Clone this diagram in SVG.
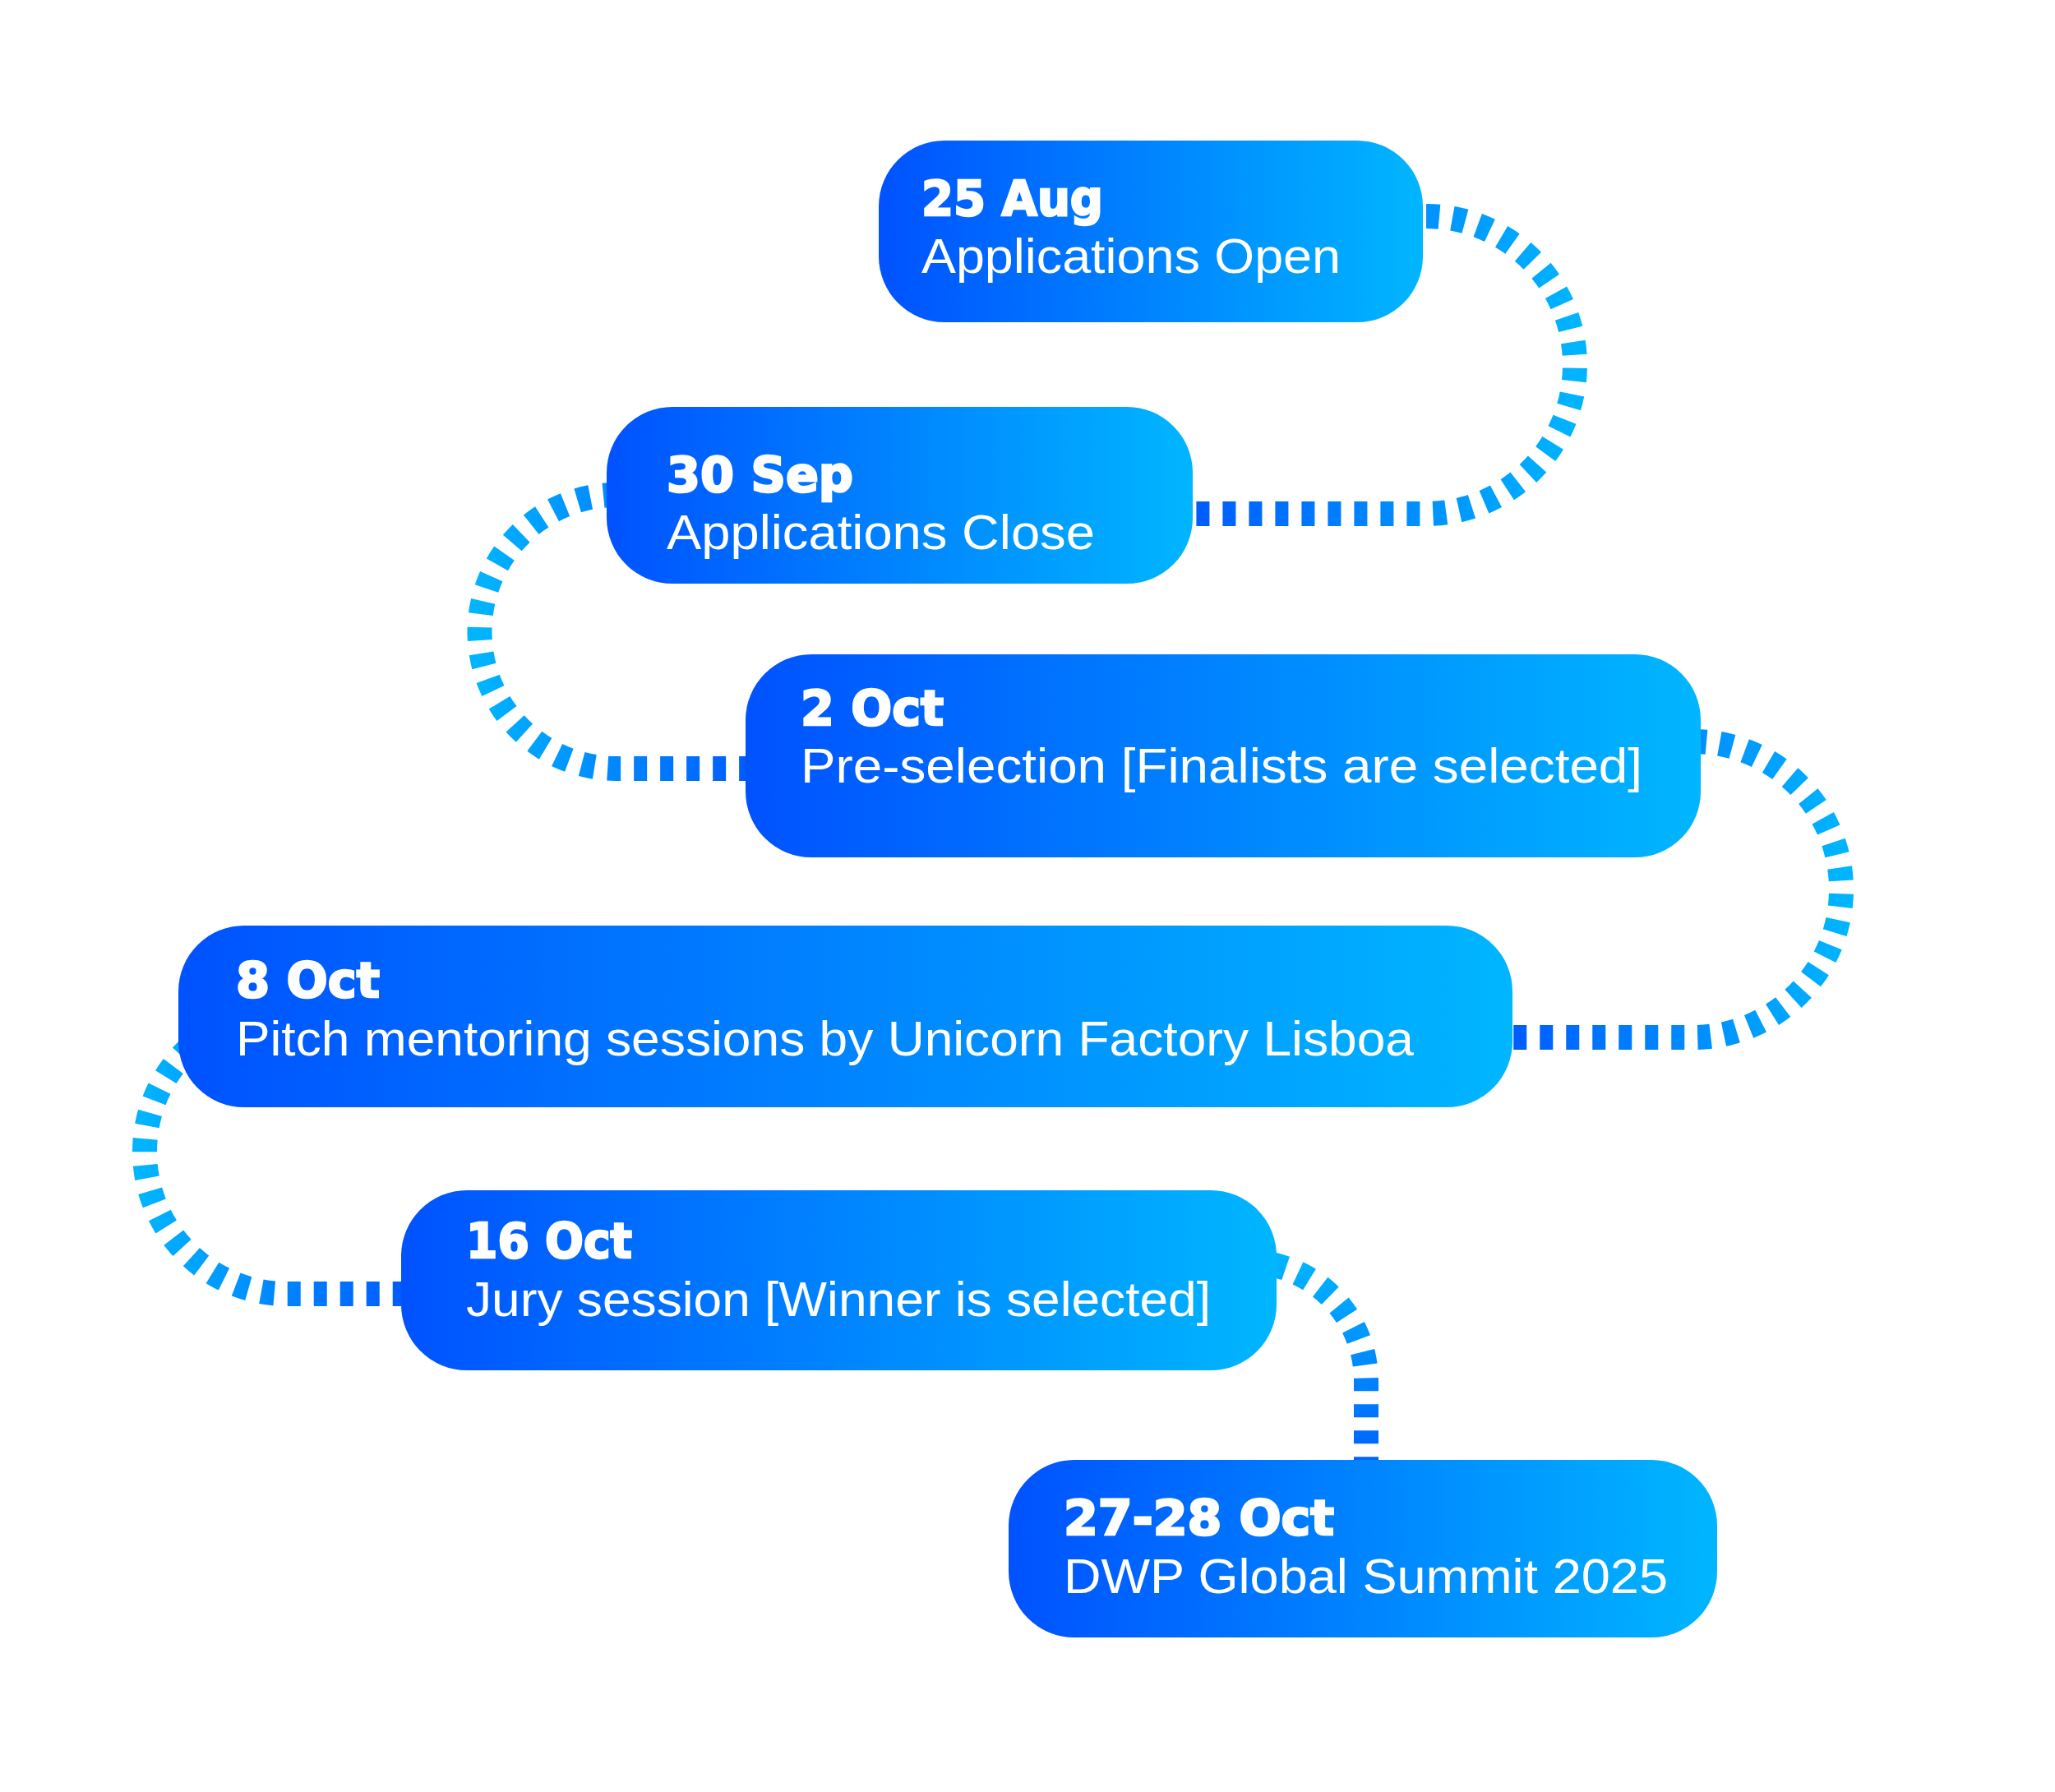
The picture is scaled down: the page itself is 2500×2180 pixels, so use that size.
<svg xmlns="http://www.w3.org/2000/svg" width="2500" height="2180" viewBox="0 0 2500 2180">
  <defs>
    <linearGradient id="nodeGrad" x1="0" y1="0" x2="1" y2="0">
      <stop offset="0" stop-color="#0052FF"/>
      <stop offset="1" stop-color="#00B6FF"/>
    </linearGradient>
    <linearGradient id="gradLR" gradientUnits="objectBoundingBox" x1="0" y1="0" x2="1" y2="0">
      <stop offset="0" stop-color="#005CFF"/>
      <stop offset="1" stop-color="#00B4FF"/>
    </linearGradient>
    <linearGradient id="gradRL" gradientUnits="objectBoundingBox" x1="1" y1="0" x2="0" y2="0">
      <stop offset="0" stop-color="#005CFF"/>
      <stop offset="1" stop-color="#00B4FF"/>
    </linearGradient>
    <linearGradient id="gradTB" gradientUnits="objectBoundingBox" x1="0" y1="0" x2="0" y2="1">
      <stop offset="0" stop-color="#00B4FF"/>
      <stop offset="1" stop-color="#0062FF"/>
    </linearGradient>
  </defs>
  <style>
    .conn { fill: none; stroke-width: 30; stroke-dasharray: 16 16; }
    .node rect { fill: url(#nodeGrad); }
    .date { font-family: "DejaVu Sans", "Liberation Sans", sans-serif; font-weight: bold; font-size: 58px; fill: #ffffff; stroke: #ffffff; stroke-width: 2.5; }
    .sub { font-family: "Liberation Sans", Arial, sans-serif; font-weight: normal; font-size: 59px; fill: #ffffff; }
  </style>
  <rect x="0" y="0" width="2500" height="2180" fill="#ffffff"/>

  <g id="connectors">
    <path class="conn" stroke="url(#gradLR)" d="M 1735 263 A 181 181 0 0 1 1735 625 L 1451 625"/>
    <path class="conn" stroke="url(#gradRL)" d="M 750 602 A 166.5 166.5 0 0 0 750 935 L 907 935"/>
    <path class="conn" stroke="url(#gradLR)" d="M 2060 902 A 180 180 0 0 1 2060 1262 L 1840 1262"/>
    <path class="conn" stroke="url(#gradRL)" d="M 349 1228 A 173 173 0 0 0 349 1574 L 488 1574"/>
    <path class="conn" stroke="url(#gradTB)" d="M 1517 1535 A 145 145 0 0 1 1662 1680 L 1662 1776"/>
  </g>

  <g id="node1" class="node">
    <rect x="1069" y="171" width="662" height="221" rx="80" ry="80"/>
    <text class="date" x="1121" y="262" textLength="221" lengthAdjust="spacingAndGlyphs">25 Aug</text>
    <text class="sub" x="1121" y="332" textLength="510" lengthAdjust="spacingAndGlyphs">Applications Open</text>
  </g>

  <g id="node2" class="node">
    <rect x="738" y="495" width="713" height="215" rx="80" ry="80"/>
    <text class="date" x="811" y="598" textLength="227" lengthAdjust="spacingAndGlyphs">30 Sep</text>
    <text class="sub" x="811" y="668" textLength="521" lengthAdjust="spacingAndGlyphs">Applications Close</text>
  </g>

  <g id="node3" class="node">
    <rect x="907" y="796" width="1162" height="247" rx="80" ry="80"/>
    <text class="date" x="974" y="882" textLength="174" lengthAdjust="spacingAndGlyphs">2 Oct</text>
    <text class="sub" x="974" y="952" textLength="1024" lengthAdjust="spacingAndGlyphs">Pre-selection [Finalists are selected]</text>
  </g>

  <g id="node4" class="node">
    <rect x="217" y="1126" width="1623" height="221" rx="80" ry="80"/>
    <text class="date" x="287" y="1213" textLength="175" lengthAdjust="spacingAndGlyphs">8 Oct</text>
    <text class="sub" x="287" y="1284" textLength="1433" lengthAdjust="spacingAndGlyphs">Pitch mentoring sessions by Unicorn Factory Lisboa</text>
  </g>

  <g id="node5" class="node">
    <rect x="488" y="1448" width="1065" height="219" rx="80" ry="80"/>
    <text class="date" x="567" y="1530" textLength="202" lengthAdjust="spacingAndGlyphs">16 Oct</text>
    <text class="sub" x="567" y="1601" textLength="906" lengthAdjust="spacingAndGlyphs">Jury session [Winner is selected]</text>
  </g>

  <g id="node6" class="node">
    <rect x="1227" y="1776" width="862" height="216" rx="80" ry="80"/>
    <text class="date" x="1294" y="1867" textLength="329" lengthAdjust="spacingAndGlyphs">27-28 Oct</text>
    <text class="sub" x="1294" y="1938" textLength="735" lengthAdjust="spacingAndGlyphs">DWP Global Summit 2025</text>
  </g>
</svg>
